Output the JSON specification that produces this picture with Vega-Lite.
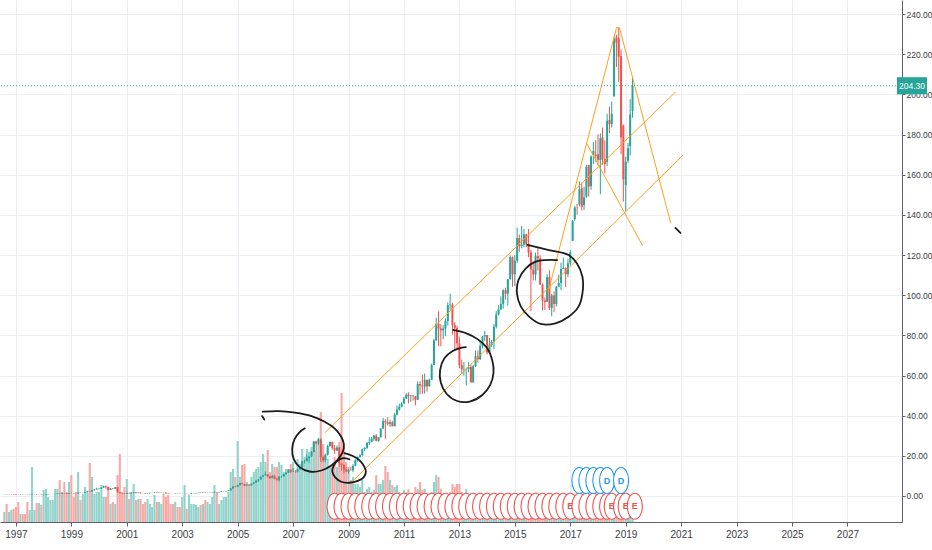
{
  "$schema": "https://vega.github.io/schema/vega-lite/v6.json",
  "width": 902,
  "height": 522,
  "autosize": {"type": "none"},
  "padding": {"left": 0, "top": 0, "right": 30, "bottom": 28},
  "background": "white",
  "data": {"values": [{"last": 204.3, "lab": "204.30"}]},
  "datasets": {
    "candles": [
      {"d":"1996-08-01","o":0.82,"h":0.88,"l":0.78,"c":0.86,"v":10},
      {"d":"1996-09-01","o":0.86,"h":0.90,"l":0.76,"c":0.78,"v":18},
      {"d":"1996-10-01","o":0.78,"h":0.86,"l":0.74,"c":0.83,"v":10},
      {"d":"1996-11-01","o":0.83,"h":0.90,"l":0.80,"c":0.87,"v":12},
      {"d":"1996-12-01","o":0.87,"h":0.92,"l":0.72,"c":0.74,"v":13},
      {"d":"1997-01-01","o":0.74,"h":0.78,"l":0.55,"c":0.57,"v":15},
      {"d":"1997-02-01","o":0.57,"h":0.61,"l":0.51,"c":0.54,"v":20},
      {"d":"1997-03-01","o":0.54,"h":0.72,"l":0.52,"c":0.69,"v":8},
      {"d":"1997-04-01","o":0.69,"h":0.71,"l":0.59,"c":0.62,"v":8},
      {"d":"1997-05-01","o":0.62,"h":0.67,"l":0.58,"c":0.61,"v":8},
      {"d":"1997-06-01","o":0.61,"h":0.64,"l":0.50,"c":0.51,"v":20},
      {"d":"1997-07-01","o":0.51,"h":0.64,"l":0.47,"c":0.62,"v":12},
      {"d":"1997-08-01","o":0.62,"h":1.06,"l":0.60,"c":0.77,"v":55},
      {"d":"1997-09-01","o":0.77,"h":0.85,"l":0.71,"c":0.78,"v":12},
      {"d":"1997-10-01","o":0.78,"h":0.83,"l":0.60,"c":0.61,"v":19},
      {"d":"1997-11-01","o":0.61,"h":0.69,"l":0.58,"c":0.63,"v":19},
      {"d":"1997-12-01","o":0.63,"h":0.65,"l":0.46,"c":0.47,"v":17},
      {"d":"1998-01-01","o":0.47,"h":0.66,"l":0.46,"c":0.64,"v":32},
      {"d":"1998-02-01","o":0.64,"h":0.87,"l":0.63,"c":0.85,"v":33},
      {"d":"1998-03-01","o":0.85,"h":1.00,"l":0.82,"c":0.97,"v":25},
      {"d":"1998-04-01","o":0.97,"h":1.05,"l":0.94,"c":0.98,"v":22},
      {"d":"1998-05-01","o":0.98,"h":1.08,"l":0.95,"c":0.99,"v":22},
      {"d":"1998-06-01","o":0.99,"h":1.08,"l":0.95,"c":1.03,"v":33},
      {"d":"1998-07-01","o":1.03,"h":1.32,"l":1.01,"c":1.23,"v":33},
      {"d":"1998-08-01","o":1.23,"h":1.27,"l":0.99,"c":1.03,"v":42},
      {"d":"1998-09-01","o":1.03,"h":1.47,"l":1.01,"c":1.36,"v":30},
      {"d":"1998-10-01","o":1.36,"h":1.44,"l":1.15,"c":1.33,"v":40},
      {"d":"1998-11-01","o":1.33,"h":1.45,"l":1.08,"c":1.10,"v":30},
      {"d":"1998-12-01","o":1.10,"h":1.52,"l":1.08,"c":1.46,"v":40},
      {"d":"1999-01-01","o":1.46,"h":1.70,"l":1.38,"c":1.42,"v":47},
      {"d":"1999-02-01","o":1.42,"h":1.50,"l":1.25,"c":1.31,"v":25},
      {"d":"1999-03-01","o":1.31,"h":1.40,"l":1.20,"c":1.28,"v":30},
      {"d":"1999-04-01","o":1.28,"h":1.70,"l":1.21,"c":1.66,"v":50},
      {"d":"1999-05-01","o":1.66,"h":1.80,"l":1.55,"c":1.61,"v":22},
      {"d":"1999-06-01","o":1.61,"h":1.70,"l":1.45,"c":1.65,"v":28},
      {"d":"1999-07-01","o":1.65,"h":2.05,"l":1.62,"c":1.99,"v":35},
      {"d":"1999-08-01","o":1.99,"h":2.50,"l":1.94,"c":2.43,"v":30},
      {"d":"1999-09-01","o":2.43,"h":2.75,"l":2.29,"c":2.32,"v":59},
      {"d":"1999-10-01","o":2.32,"h":2.90,"l":2.10,"c":2.86,"v":45},
      {"d":"1999-11-01","o":2.86,"h":3.40,"l":2.75,"c":3.23,"v":28},
      {"d":"1999-12-01","o":3.23,"h":4.18,"l":3.21,"c":3.67,"v":30},
      {"d":"2000-01-01","o":3.67,"h":4.08,"l":3.21,"c":3.69,"v":30},
      {"d":"2000-02-01","o":3.69,"h":4.24,"l":3.50,"c":4.12,"v":37},
      {"d":"2000-03-01","o":4.12,"h":5.16,"l":4.10,"c":4.85,"v":25},
      {"d":"2000-04-01","o":4.85,"h":5.10,"l":3.58,"c":4.42,"v":25},
      {"d":"2000-05-01","o":4.42,"h":4.60,"l":2.86,"c":3.00,"v":35},
      {"d":"2000-06-01","o":3.00,"h":3.95,"l":2.91,"c":3.74,"v":18},
      {"d":"2000-07-01","o":3.74,"h":4.00,"l":3.36,"c":3.63,"v":20},
      {"d":"2000-08-01","o":3.63,"h":4.44,"l":3.56,"c":4.36,"v":18},
      {"d":"2000-09-01","o":4.36,"h":4.54,"l":1.80,"c":1.84,"v":47},
      {"d":"2000-10-01","o":1.84,"h":1.94,"l":1.30,"c":1.40,"v":68},
      {"d":"2000-11-01","o":1.40,"h":1.51,"l":1.15,"c":1.19,"v":30},
      {"d":"2000-12-01","o":1.19,"h":1.26,"l":0.94,"c":1.06,"v":35},
      {"d":"2001-01-01","o":1.06,"h":1.63,"l":1.03,"c":1.56,"v":43},
      {"d":"2001-02-01","o":1.56,"h":1.67,"l":1.29,"c":1.31,"v":23},
      {"d":"2001-03-01","o":1.31,"h":1.64,"l":1.23,"c":1.58,"v":30},
      {"d":"2001-04-01","o":1.58,"h":1.88,"l":1.39,"c":1.82,"v":38},
      {"d":"2001-05-01","o":1.82,"h":1.86,"l":1.40,"c":1.42,"v":22},
      {"d":"2001-06-01","o":1.42,"h":1.77,"l":1.40,"c":1.66,"v":23},
      {"d":"2001-07-01","o":1.66,"h":1.81,"l":1.30,"c":1.34,"v":23},
      {"d":"2001-08-01","o":1.34,"h":1.40,"l":1.28,"c":1.33,"v":18},
      {"d":"2001-09-01","o":1.33,"h":1.36,"l":1.05,"c":1.11,"v":20},
      {"d":"2001-10-01","o":1.11,"h":1.33,"l":1.06,"c":1.26,"v":23},
      {"d":"2001-11-01","o":1.26,"h":1.57,"l":1.25,"c":1.54,"v":18},
      {"d":"2001-12-01","o":1.54,"h":1.66,"l":1.47,"c":1.56,"v":15},
      {"d":"2002-01-01","o":1.56,"h":1.83,"l":1.50,"c":1.75,"v":27},
      {"d":"2002-02-01","o":1.75,"h":1.79,"l":1.47,"c":1.55,"v":20},
      {"d":"2002-03-01","o":1.55,"h":1.73,"l":1.53,"c":1.69,"v":20},
      {"d":"2002-04-01","o":1.69,"h":1.86,"l":1.65,"c":1.73,"v":18},
      {"d":"2002-05-01","o":1.73,"h":1.81,"l":1.61,"c":1.66,"v":28},
      {"d":"2002-06-01","o":1.66,"h":1.72,"l":1.22,"c":1.27,"v":25},
      {"d":"2002-07-01","o":1.27,"h":1.35,"l":1.02,"c":1.09,"v":27},
      {"d":"2002-08-01","o":1.09,"h":1.14,"l":1.03,"c":1.05,"v":18},
      {"d":"2002-09-01","o":1.05,"h":1.14,"l":1.00,"c":1.04,"v":18},
      {"d":"2002-10-01","o":1.04,"h":1.20,"l":0.99,"c":1.15,"v":20},
      {"d":"2002-11-01","o":1.15,"h":1.24,"l":1.06,"c":1.10,"v":15},
      {"d":"2002-12-01","o":1.10,"h":1.17,"l":1.00,"c":1.02,"v":15},
      {"d":"2003-01-01","o":1.02,"h":1.10,"l":1.00,"c":1.03,"v":25},
      {"d":"2003-02-01","o":1.03,"h":1.10,"l":0.99,"c":1.07,"v":37},
      {"d":"2003-03-01","o":1.07,"h":1.11,"l":0.99,"c":1.01,"v":13},
      {"d":"2003-04-01","o":1.01,"h":1.06,"l":0.93,"c":1.02,"v":27},
      {"d":"2003-05-01","o":1.02,"h":1.35,"l":1.01,"c":1.28,"v":18},
      {"d":"2003-06-01","o":1.28,"h":1.43,"l":1.25,"c":1.36,"v":18},
      {"d":"2003-07-01","o":1.36,"h":1.56,"l":1.30,"c":1.50,"v":17},
      {"d":"2003-08-01","o":1.50,"h":1.70,"l":1.45,"c":1.62,"v":15},
      {"d":"2003-09-01","o":1.62,"h":1.66,"l":1.44,"c":1.48,"v":17},
      {"d":"2003-10-01","o":1.48,"h":1.74,"l":1.45,"c":1.63,"v":18},
      {"d":"2003-11-01","o":1.63,"h":1.68,"l":1.45,"c":1.49,"v":22},
      {"d":"2003-12-01","o":1.49,"h":1.63,"l":1.43,"c":1.53,"v":20},
      {"d":"2004-01-01","o":1.53,"h":1.75,"l":1.51,"c":1.61,"v":18},
      {"d":"2004-02-01","o":1.61,"h":1.78,"l":1.55,"c":1.72,"v":25},
      {"d":"2004-03-01","o":1.72,"h":2.06,"l":1.66,"c":1.93,"v":37},
      {"d":"2004-04-01","o":1.93,"h":2.01,"l":1.81,"c":1.84,"v":30},
      {"d":"2004-05-01","o":1.84,"h":2.03,"l":1.76,"c":2.01,"v":18},
      {"d":"2004-06-01","o":2.01,"h":2.36,"l":1.99,"c":2.32,"v":22},
      {"d":"2004-07-01","o":2.32,"h":2.43,"l":2.19,"c":2.33,"v":25},
      {"d":"2004-08-01","o":2.33,"h":2.50,"l":2.24,"c":2.47,"v":25},
      {"d":"2004-09-01","o":2.47,"h":2.80,"l":2.43,"c":2.77,"v":30},
      {"d":"2004-10-01","o":2.77,"h":3.78,"l":2.75,"c":3.76,"v":50},
      {"d":"2004-11-01","o":3.76,"h":4.83,"l":3.70,"c":4.80,"v":53},
      {"d":"2004-12-01","o":4.80,"h":4.85,"l":4.36,"c":4.60,"v":45},
      {"d":"2005-01-01","o":4.60,"h":5.57,"l":4.43,"c":5.49,"v":81},
      {"d":"2005-02-01","o":5.49,"h":6.59,"l":5.41,"c":6.41,"v":45},
      {"d":"2005-03-01","o":6.41,"h":6.55,"l":5.73,"c":5.95,"v":57},
      {"d":"2005-04-01","o":5.95,"h":6.15,"l":4.95,"c":5.16,"v":58},
      {"d":"2005-05-01","o":5.16,"h":5.80,"l":4.96,"c":5.68,"v":40},
      {"d":"2005-06-01","o":5.68,"h":5.86,"l":5.13,"c":5.26,"v":37},
      {"d":"2005-07-01","o":5.26,"h":6.22,"l":5.18,"c":6.09,"v":45},
      {"d":"2005-08-01","o":6.09,"h":6.97,"l":5.97,"c":6.69,"v":50},
      {"d":"2005-09-01","o":6.69,"h":7.74,"l":6.53,"c":7.66,"v":53},
      {"d":"2005-10-01","o":7.66,"h":8.44,"l":6.98,"c":8.22,"v":55},
      {"d":"2005-11-01","o":8.22,"h":9.73,"l":8.16,"c":9.60,"v":60},
      {"d":"2005-12-01","o":9.60,"h":10.53,"l":9.47,"c":10.27,"v":68},
      {"d":"2006-01-01","o":10.27,"h":12.24,"l":10.16,"c":10.79,"v":60},
      {"d":"2006-02-01","o":10.79,"h":10.99,"l":9.17,"c":9.75,"v":72},
      {"d":"2006-03-01","o":9.75,"h":9.99,"l":8.41,"c":8.96,"v":50},
      {"d":"2006-04-01","o":8.96,"h":10.37,"l":8.82,"c":10.06,"v":58},
      {"d":"2006-05-01","o":10.06,"h":10.49,"l":8.46,"c":8.54,"v":55},
      {"d":"2006-06-01","o":8.54,"h":9.16,"l":7.54,"c":8.18,"v":55},
      {"d":"2006-07-01","o":8.18,"h":9.87,"l":7.20,"c":9.68,"v":60},
      {"d":"2006-08-01","o":9.68,"h":10.18,"l":9.05,"c":9.70,"v":57},
      {"d":"2006-09-01","o":9.70,"h":11.05,"l":9.59,"c":11.00,"v":50},
      {"d":"2006-10-01","o":11.00,"h":11.80,"l":10.66,"c":11.58,"v":53},
      {"d":"2006-11-01","o":11.58,"h":13.14,"l":11.52,"c":13.10,"v":53},
      {"d":"2006-12-01","o":13.10,"h":13.12,"l":11.47,"c":12.12,"v":58},
      {"d":"2007-01-01","o":12.12,"h":13.94,"l":11.93,"c":12.25,"v":60},
      {"d":"2007-02-01","o":12.25,"h":12.89,"l":11.56,"c":12.07,"v":50},
      {"d":"2007-03-01","o":12.07,"h":13.59,"l":11.68,"c":13.27,"v":63},
      {"d":"2007-04-01","o":13.27,"h":14.45,"l":12.98,"c":14.26,"v":58},
      {"d":"2007-05-01","o":14.26,"h":17.44,"l":14.14,"c":17.30,"v":73},
      {"d":"2007-06-01","o":17.30,"h":18.10,"l":16.15,"c":17.43,"v":65},
      {"d":"2007-07-01","o":17.43,"h":20.64,"l":17.27,"c":18.83,"v":73},
      {"d":"2007-08-01","o":18.83,"h":19.80,"l":16.50,"c":19.75,"v":70},
      {"d":"2007-09-01","o":19.75,"h":22.31,"l":19.40,"c":21.93,"v":75},
      {"d":"2007-10-01","o":21.93,"h":27.50,"l":21.80,"c":27.13,"v":80},
      {"d":"2007-11-01","o":27.13,"h":27.56,"l":22.94,"c":26.07,"v":72},
      {"d":"2007-12-01","o":26.07,"h":28.99,"l":25.47,"c":28.30,"v":78},
      {"d":"2008-01-01","o":28.30,"h":28.61,"l":16.90,"c":19.34,"v":110},
      {"d":"2008-02-01","o":19.34,"h":19.95,"l":16.77,"c":17.85,"v":78},
      {"d":"2008-03-01","o":17.85,"h":21.13,"l":16.86,"c":20.50,"v":65},
      {"d":"2008-04-01","o":20.50,"h":25.56,"l":20.10,"c":24.85,"v":63},
      {"d":"2008-05-01","o":24.85,"h":27.03,"l":24.60,"c":26.96,"v":55},
      {"d":"2008-06-01","o":26.96,"h":27.03,"l":22.99,"c":23.92,"v":58},
      {"d":"2008-07-01","o":23.92,"h":25.37,"l":20.93,"c":22.70,"v":65},
      {"d":"2008-08-01","o":22.70,"h":25.17,"l":22.38,"c":24.18,"v":55},
      {"d":"2008-09-01","o":24.18,"h":24.37,"l":14.36,"c":16.24,"v":80},
      {"d":"2008-10-01","o":16.24,"h":16.55,"l":12.58,"c":15.37,"v":129},
      {"d":"2008-11-01","o":15.37,"h":15.86,"l":11.32,"c":13.24,"v":75},
      {"d":"2008-12-01","o":13.24,"h":14.53,"l":11.90,"c":12.19,"v":60},
      {"d":"2009-01-01","o":12.19,"h":13.48,"l":11.17,"c":12.88,"v":55},
      {"d":"2009-02-01","o":12.88,"h":14.66,"l":12.70,"c":12.76,"v":42},
      {"d":"2009-03-01","o":12.76,"h":15.88,"l":11.82,"c":15.02,"v":45},
      {"d":"2009-04-01","o":15.02,"h":18.18,"l":14.80,"c":17.98,"v":38},
      {"d":"2009-05-01","o":17.98,"h":19.65,"l":16.95,"c":19.40,"v":38},
      {"d":"2009-06-01","o":19.40,"h":20.79,"l":19.10,"c":20.35,"v":35},
      {"d":"2009-07-01","o":20.35,"h":23.62,"l":19.70,"c":23.34,"v":42},
      {"d":"2009-08-01","o":23.34,"h":24.26,"l":22.35,"c":24.03,"v":30},
      {"d":"2009-09-01","o":24.03,"h":26.78,"l":23.41,"c":26.48,"v":33},
      {"d":"2009-10-01","o":26.48,"h":29.30,"l":25.39,"c":26.93,"v":35},
      {"d":"2009-11-01","o":26.93,"h":29.46,"l":26.78,"c":28.56,"v":30},
      {"d":"2009-12-01","o":28.56,"h":30.36,"l":27.46,"c":30.10,"v":32},
      {"d":"2010-01-01","o":30.10,"h":30.80,"l":27.18,"c":27.44,"v":47},
      {"d":"2010-02-01","o":27.44,"h":29.28,"l":27.01,"c":29.23,"v":38},
      {"d":"2010-03-01","o":29.23,"h":33.80,"l":29.20,"c":33.57,"v":38},
      {"d":"2010-04-01","o":33.57,"h":38.99,"l":33.51,"c":37.30,"v":42},
      {"d":"2010-05-01","o":37.30,"h":38.23,"l":28.46,"c":36.70,"v":56},
      {"d":"2010-06-01","o":36.70,"h":39.24,"l":35.00,"c":35.93,"v":50},
      {"d":"2010-07-01","o":35.93,"h":37.97,"l":34.37,"c":36.75,"v":42},
      {"d":"2010-08-01","o":36.75,"h":37.43,"l":34.68,"c":34.73,"v":37},
      {"d":"2010-09-01","o":34.73,"h":41.37,"l":34.64,"c":40.54,"v":35},
      {"d":"2010-10-01","o":40.54,"h":45.05,"l":40.08,"c":43.00,"v":37},
      {"d":"2010-11-01","o":43.00,"h":45.92,"l":42.56,"c":44.45,"v":30},
      {"d":"2010-12-01","o":44.45,"h":46.67,"l":44.14,"c":46.08,"v":25},
      {"d":"2011-01-01","o":46.08,"h":49.38,"l":46.00,"c":48.47,"v":32},
      {"d":"2011-02-01","o":48.47,"h":51.24,"l":48.36,"c":50.46,"v":30},
      {"d":"2011-03-01","o":50.46,"h":51.64,"l":46.10,"c":49.79,"v":33},
      {"d":"2011-04-01","o":49.79,"h":50.36,"l":46.91,"c":50.02,"v":28},
      {"d":"2011-05-01","o":50.02,"h":50.04,"l":47.50,"c":49.69,"v":22},
      {"d":"2011-06-01","o":49.69,"h":49.80,"l":45.18,"c":47.95,"v":35},
      {"d":"2011-07-01","o":47.95,"h":57.15,"l":47.70,"c":55.78,"v":33},
      {"d":"2011-08-01","o":55.78,"h":57.18,"l":50.57,"c":54.98,"v":40},
      {"d":"2011-09-01","o":54.98,"h":60.41,"l":50.84,"c":54.47,"v":32},
      {"d":"2011-10-01","o":54.47,"h":60.96,"l":50.95,"c":57.83,"v":33},
      {"d":"2011-11-01","o":57.83,"h":57.94,"l":51.98,"c":54.60,"v":28},
      {"d":"2011-12-01","o":54.60,"h":58.44,"l":54.44,"c":57.86,"v":22},
      {"d":"2012-01-01","o":57.86,"h":65.90,"l":57.80,"c":65.21,"v":30},
      {"d":"2012-02-01","o":65.21,"h":78.29,"l":65.26,"c":77.49,"v":40},
      {"d":"2012-03-01","o":77.49,"h":88.78,"l":77.29,"c":85.65,"v":47},
      {"d":"2012-04-01","o":85.65,"h":92.00,"l":74.60,"c":83.43,"v":45},
      {"d":"2012-05-01","o":83.43,"h":85.63,"l":74.60,"c":82.53,"v":33},
      {"d":"2012-06-01","o":82.53,"h":85.10,"l":78.04,"c":83.43,"v":25},
      {"d":"2012-07-01","o":83.43,"h":88.47,"l":79.58,"c":87.25,"v":28},
      {"d":"2012-08-01","o":87.25,"h":96.41,"l":84.91,"c":95.03,"v":27},
      {"d":"2012-09-01","o":95.03,"h":100.72,"l":92.80,"c":95.30,"v":30},
      {"d":"2012-10-01","o":95.30,"h":96.30,"l":80.37,"c":85.05,"v":38},
      {"d":"2012-11-01","o":85.05,"h":86.49,"l":72.25,"c":83.61,"v":35},
      {"d":"2012-12-01","o":83.61,"h":84.66,"l":72.79,"c":76.02,"v":38},
      {"d":"2013-01-01","o":76.02,"h":79.29,"l":63.64,"c":65.07,"v":38},
      {"d":"2013-02-01","o":65.07,"h":67.86,"l":60.72,"c":63.06,"v":30},
      {"d":"2013-03-01","o":63.06,"h":66.69,"l":59.86,"c":63.24,"v":25},
      {"d":"2013-04-01","o":63.24,"h":63.89,"l":55.01,"c":63.25,"v":33},
      {"d":"2013-05-01","o":63.25,"h":66.54,"l":61.57,"c":64.25,"v":25},
      {"d":"2013-06-01","o":64.25,"h":65.39,"l":56.43,"c":56.65,"v":27},
      {"d":"2013-07-01","o":56.65,"h":65.33,"l":56.22,"c":64.65,"v":25},
      {"d":"2013-08-01","o":64.65,"h":72.53,"l":64.27,"c":69.60,"v":24},
      {"d":"2013-09-01","o":69.60,"h":72.55,"l":66.39,"c":68.11,"v":28},
      {"d":"2013-10-01","o":68.11,"h":77.04,"l":67.77,"c":74.67,"v":22},
      {"d":"2013-11-01","o":74.67,"h":79.76,"l":73.46,"c":79.44,"v":18},
      {"d":"2013-12-01","o":79.44,"h":82.16,"l":77.21,"c":80.15,"v":20},
      {"d":"2014-01-01","o":80.15,"h":80.18,"l":70.51,"c":71.51,"v":22},
      {"d":"2014-02-01","o":71.51,"h":78.74,"l":70.70,"c":75.18,"v":18},
      {"d":"2014-03-01","o":75.18,"h":77.70,"l":74.24,"c":76.68,"v":16},
      {"d":"2014-04-01","o":76.68,"h":85.63,"l":73.05,"c":84.30,"v":20},
      {"d":"2014-05-01","o":84.30,"h":92.02,"l":83.47,"c":90.43,"v":20},
      {"d":"2014-06-01","o":90.43,"h":95.05,"l":89.82,"c":92.93,"v":18},
      {"d":"2014-07-01","o":92.93,"h":99.44,"l":92.57,"c":95.60,"v":14},
      {"d":"2014-08-01","o":95.60,"h":102.90,"l":93.28,"c":102.50,"v":16},
      {"d":"2014-09-01","o":102.50,"h":103.74,"l":97.79,"c":100.75,"v":20},
      {"d":"2014-10-01","o":100.75,"h":108.04,"l":94.81,"c":108.00,"v":18},
      {"d":"2014-11-01","o":108.00,"h":119.75,"l":107.72,"c":118.93,"v":16},
      {"d":"2014-12-01","o":118.93,"h":119.25,"l":104.25,"c":110.38,"v":18},
      {"d":"2015-01-01","o":110.38,"h":120.00,"l":104.63,"c":117.16,"v":18},
      {"d":"2015-02-01","o":117.16,"h":133.60,"l":116.08,"c":128.46,"v":20},
      {"d":"2015-03-01","o":128.46,"h":130.28,"l":121.63,"c":124.43,"v":17},
      {"d":"2015-04-01","o":124.43,"h":134.54,"l":123.36,"c":125.15,"v":16},
      {"d":"2015-05-01","o":125.15,"h":132.97,"l":123.83,"c":130.28,"v":13},
      {"d":"2015-06-01","o":130.28,"h":130.63,"l":123.85,"c":125.43,"v":15},
      {"d":"2015-07-01","o":125.43,"h":132.97,"l":118.94,"c":121.30,"v":16},
      {"d":"2015-08-01","o":121.30,"h":122.57,"l":92.00,"c":112.76,"v":22},
      {"d":"2015-09-01","o":112.76,"h":116.89,"l":107.31,"c":110.30,"v":18},
      {"d":"2015-10-01","o":110.30,"h":121.22,"l":107.31,"c":119.50,"v":15},
      {"d":"2015-11-01","o":119.50,"h":123.82,"l":112.27,"c":118.30,"v":13},
      {"d":"2015-12-01","o":118.30,"h":119.86,"l":105.20,"c":105.26,"v":16},
      {"d":"2016-01-01","o":105.26,"h":105.85,"l":92.39,"c":97.34,"v":18},
      {"d":"2016-02-01","o":97.34,"h":98.89,"l":92.59,"c":96.69,"v":16},
      {"d":"2016-03-01","o":96.69,"h":110.42,"l":96.65,"c":108.99,"v":14},
      {"d":"2016-04-01","o":108.99,"h":112.39,"l":92.51,"c":93.74,"v":18},
      {"d":"2016-05-01","o":93.74,"h":100.73,"l":89.47,"c":99.86,"v":13},
      {"d":"2016-06-01","o":99.86,"h":101.89,"l":91.50,"c":95.60,"v":12},
      {"d":"2016-07-01","o":95.60,"h":104.55,"l":94.37,"c":104.21,"v":10},
      {"d":"2016-08-01","o":104.21,"h":110.23,"l":104.00,"c":106.10,"v":9},
      {"d":"2016-09-01","o":106.10,"h":116.18,"l":102.53,"c":113.05,"v":12},
      {"d":"2016-10-01","o":113.05,"h":118.69,"l":113.03,"c":113.54,"v":11},
      {"d":"2016-11-01","o":113.54,"h":113.80,"l":104.08,"c":110.52,"v":11},
      {"d":"2016-12-01","o":110.52,"h":118.02,"l":108.93,"c":115.82,"v":9},
      {"d":"2017-01-01","o":115.82,"h":122.44,"l":114.76,"c":121.35,"v":8},
      {"d":"2017-02-01","o":127.03,"h":137.48,"l":127.01,"c":136.99,"v":8},
      {"d":"2017-03-01","o":137.89,"h":144.50,"l":137.05,"c":143.66,"v":9},
      {"d":"2017-04-01","o":143.71,"h":145.46,"l":140.06,"c":143.65,"v":8},
      {"d":"2017-05-01","o":145.10,"h":156.65,"l":144.27,"c":152.76,"v":9},
      {"d":"2017-06-01","o":153.17,"h":155.98,"l":142.20,"c":144.02,"v":10},
      {"d":"2017-07-01","o":144.88,"h":153.99,"l":142.41,"c":148.73,"v":9},
      {"d":"2017-08-01","o":149.10,"h":164.94,"l":148.41,"c":164.00,"v":10},
      {"d":"2017-09-01","o":164.80,"h":164.94,"l":149.16,"c":154.12,"v":10},
      {"d":"2017-10-01","o":154.26,"h":169.65,"l":152.46,"c":169.04,"v":9},
      {"d":"2017-11-01","o":169.87,"h":176.24,"l":165.28,"c":171.85,"v":10},
      {"d":"2017-12-01","o":169.95,"h":177.20,"l":166.46,"c":169.23,"v":11},
      {"d":"2018-01-01","o":170.16,"h":180.10,"l":164.60,"c":167.43,"v":12},
      {"d":"2018-02-01","o":167.17,"h":180.62,"l":150.24,"c":178.12,"v":12},
      {"d":"2018-03-01","o":178.54,"h":183.50,"l":164.94,"c":167.78,"v":12},
      {"d":"2018-04-01","o":167.88,"h":177.10,"l":160.63,"c":165.26,"v":10},
      {"d":"2018-05-01","o":166.41,"h":190.37,"l":164.33,"c":186.87,"v":9},
      {"d":"2018-06-01","o":187.25,"h":193.94,"l":180.73,"c":185.11,"v":7},
      {"d":"2018-07-01","o":185.26,"h":196.44,"l":183.42,"c":190.29,"v":8},
      {"d":"2018-08-01","o":199.13,"h":228.87,"l":198.67,"c":227.63,"v":9},
      {"d":"2018-09-01","o":228.41,"h":229.67,"l":213.63,"c":225.74,"v":9},
      {"d":"2018-10-01","o":227.95,"h":233.47,"l":206.09,"c":218.86,"v":11},
      {"d":"2018-11-01","o":219.07,"h":222.36,"l":170.26,"c":178.58,"v":12},
      {"d":"2018-12-01","o":184.46,"h":184.94,"l":146.59,"c":157.74,"v":13},
      {"d":"2019-01-01","o":154.89,"h":169.00,"l":142.00,"c":166.44,"v":10},
      {"d":"2019-02-01","o":166.96,"h":175.87,"l":165.93,"c":173.15,"v":8},
      {"d":"2019-03-01","o":174.28,"h":197.69,"l":169.50,"c":189.95,"v":9},
      {"d":"2019-04-01","o":191.64,"h":208.48,"l":188.38,"c":204.30,"v":7}
    ],
    "earnings": [
      {"d":"2008-07-01","lab":""},{"d":"2008-10-01","lab":""},{"d":"2009-01-01","lab":""},{"d":"2009-04-01","lab":""},
      {"d":"2009-07-01","lab":""},{"d":"2009-10-01","lab":""},{"d":"2010-01-01","lab":""},{"d":"2010-04-01","lab":""},
      {"d":"2010-07-01","lab":""},{"d":"2010-10-01","lab":""},{"d":"2011-01-01","lab":""},{"d":"2011-04-01","lab":""},
      {"d":"2011-07-01","lab":""},{"d":"2011-10-01","lab":""},{"d":"2012-01-01","lab":""},{"d":"2012-04-01","lab":""},
      {"d":"2012-07-01","lab":""},{"d":"2012-10-01","lab":""},{"d":"2013-01-01","lab":""},{"d":"2013-04-01","lab":""},
      {"d":"2013-07-01","lab":""},{"d":"2013-10-01","lab":""},{"d":"2014-01-01","lab":""},{"d":"2014-04-01","lab":""},
      {"d":"2014-07-01","lab":""},{"d":"2014-10-01","lab":""},{"d":"2015-01-01","lab":""},{"d":"2015-04-01","lab":""},
      {"d":"2015-07-01","lab":""},{"d":"2015-10-01","lab":""},{"d":"2016-01-01","lab":""},{"d":"2016-04-01","lab":""},
      {"d":"2016-07-01","lab":""},{"d":"2016-10-01","lab":""},{"d":"2017-01-01","lab":"E"},{"d":"2017-05-01","lab":""},
      {"d":"2017-08-01","lab":""},{"d":"2017-11-01","lab":""},{"d":"2018-02-01","lab":""},{"d":"2018-05-01","lab":""},
      {"d":"2018-07-01","lab":"E"},{"d":"2018-11-01","lab":""},{"d":"2019-01-01","lab":"E"},{"d":"2019-05-01","lab":"E"}
    ],
    "dividends": [
      {"d":"2017-05-01","lab":""},{"d":"2017-08-01","lab":""},{"d":"2017-11-01","lab":""},
      {"d":"2018-02-01","lab":""},{"d":"2018-05-01","lab":"D"},{"d":"2018-11-01","lab":"D"}
    ],
    "trendlines": [
      {"id":"upper","d":"2008-02-21","p":31.4},{"id":"upper","d":"2020-10-22","p":201.3},
      {"id":"lower","d":"2009-02-26","p":7.5},{"id":"lower","d":"2021-01-27","p":169.8},
      {"id":"legs","d":"2016-03-12","p":101.1},{"id":"legs","d":"2018-09-03","p":233.3},
      {"id":"legs","d":"2018-10-12","p":233.1},{"id":"legs","d":"2020-08-17","p":135.8},
      {"id":"inner","d":"2017-08-02","p":175.8},{"id":"inner","d":"2019-08-14","p":124.5}
    ],
    "sketch": [
      {"id":"a0","i":0,"d":"2005-11-18","p":39.8},{"id":"a0","i":1,"d":"2005-12-18","p":38.1},
      {"id":"a","i":0,"d":"2005-11-27","p":42.0},{"id":"a","i":1,"d":"2006-06-24","p":42.3},
      {"id":"a","i":2,"d":"2007-01-26","p":41.5},{"id":"a","i":3,"d":"2007-08-31","p":39.8},
      {"id":"a","i":4,"d":"2008-02-21","p":37.0},{"id":"a","i":5,"d":"2008-07-01","p":33.7},
      {"id":"a","i":6,"d":"2008-09-26","p":29.5},{"id":"a","i":7,"d":"2008-10-31","p":25.9},
      {"id":"a","i":8,"d":"2008-10-18","p":22.1},{"id":"a","i":9,"d":"2008-08-18","p":18.4},
      {"id":"a","i":10,"d":"2008-05-19","p":15.2},{"id":"a","i":11,"d":"2008-01-09","p":12.7},
      {"id":"a","i":12,"d":"2007-08-05","p":12.2},{"id":"a","i":13,"d":"2007-03-28","p":14.4},
      {"id":"a","i":14,"d":"2007-01-10","p":18.4},{"id":"a","i":15,"d":"2006-12-20","p":23.4},
      {"id":"a","i":16,"d":"2007-01-22","p":28.4},{"id":"a","i":17,"d":"2007-03-22","p":31.6},
      {"id":"a","i":18,"d":"2007-06-05","p":33.7},
      {"id":"b","i":0,"d":"2008-11-08","p":21.3},{"id":"b","i":1,"d":"2009-02-26","p":19.9},
      {"id":"b","i":2,"d":"2009-05-23","p":17.9},{"id":"b","i":3,"d":"2009-07-27","p":14.6},
      {"id":"b","i":4,"d":"2009-08-18","p":12.1},{"id":"b","i":5,"d":"2009-07-19","p":9.3},
      {"id":"b","i":6,"d":"2009-05-02","p":7.5},{"id":"b","i":7,"d":"2009-01-13","p":6.6},
      {"id":"b","i":8,"d":"2008-09-26","p":7.1},{"id":"b","i":9,"d":"2008-07-10","p":9.3},
      {"id":"b","i":10,"d":"2008-06-01","p":12.1},{"id":"b","i":11,"d":"2008-06-23","p":15.4},
      {"id":"b","i":12,"d":"2008-08-22","p":17.9},{"id":"b","i":13,"d":"2008-10-18","p":18.8},
      {"id":"b","i":14,"d":"2009-01-13","p":18.3},
      {"id":"c","i":0,"d":"2012-10-12","p":82.7},{"id":"c","i":1,"d":"2013-04-04","p":81.0},
      {"id":"c","i":2,"d":"2013-09-02","p":78.0},{"id":"c","i":3,"d":"2014-01-03","p":73.6},
      {"id":"c","i":4,"d":"2014-03-09","p":67.7},{"id":"c","i":5,"d":"2014-03-26","p":61.4},
      {"id":"c","i":6,"d":"2014-02-11","p":55.3},{"id":"c","i":7,"d":"2013-10-30","p":50.3},
      {"id":"c","i":8,"d":"2013-05-17","p":47.0},{"id":"c","i":9,"d":"2012-12-02","p":47.3},
      {"id":"c","i":10,"d":"2012-07-18","p":50.8},{"id":"c","i":11,"d":"2012-05-01","p":56.4},
      {"id":"c","i":12,"d":"2012-04-21","p":62.7},{"id":"c","i":13,"d":"2012-06-17","p":68.6},
      {"id":"c","i":14,"d":"2012-10-04","p":72.2},{"id":"c","i":15,"d":"2013-01-30","p":73.9},
      {"id":"c","i":16,"d":"2013-03-26","p":74.1},
      {"id":"d","i":0,"d":"2015-06-15","p":125.0},{"id":"d","i":1,"d":"2016-03-24","p":122.5},
      {"id":"d","i":2,"d":"2016-12-10","p":120.0},{"id":"d","i":3,"d":"2017-03-28","p":115.9},
      {"id":"d","i":4,"d":"2017-06-10","p":109.2},{"id":"d","i":5,"d":"2017-06-10","p":100.9},
      {"id":"d","i":6,"d":"2017-04-20","p":94.3},{"id":"d","i":7,"d":"2016-12-10","p":89.3},
      {"id":"d","i":8,"d":"2016-06-20","p":86.0},{"id":"d","i":9,"d":"2015-12-07","p":85.7},
      {"id":"d","i":10,"d":"2015-07-08","p":89.3},{"id":"d","i":11,"d":"2015-03-22","p":94.3},
      {"id":"d","i":12,"d":"2015-01-29","p":100.9},{"id":"d","i":13,"d":"2015-02-18","p":107.6},
      {"id":"d","i":14,"d":"2015-05-26","p":113.4},{"id":"d","i":15,"d":"2015-10-03","p":116.7},
      {"id":"d","i":16,"d":"2016-02-10","p":117.5},{"id":"d","i":17,"d":"2016-07-11","p":117.5},
      {"id":"e","i":0,"d":"2020-10-17","p":133.5},{"id":"e","i":1,"d":"2020-12-22","p":131.0}
    ]
  },
  "layer": [
    {
      "data": {"name": "candles"},
      "mark": {"type": "bar", "size": 2.1},
      "encoding": {
        "x": {
          "field": "d",
          "type": "temporal",
          "title": null,
          "scale": {"domain": [{"year": 1996, "month": 8, "date": 10}, {"year": 2028, "month": 10, "date": 15}], "nice": false},
          "axis": {
            "format": "%Y",
            "values": [852076800000, 915148800000, 978307200000, 1041379200000, 1104537600000, 1167609600000, 1230768000000, 1293840000000, 1356998400000, 1420070400000, 1483228800000, 1546300800000, 1609459200000, 1672531200000, 1735689600000, 1798761600000],
            "grid": true,
            "tickSize": 4,
            "labelPadding": 3,
            "labelFontSize": 10
          }
        },
        "y": {"field": "v", "type": "quantitative", "scale": {"domain": [0, 522], "nice": false}, "axis": null},
        "color": {"condition": {"test": "datum.c >= datum.o", "value": "#92d3cc"}, "value": "#f7a9a7"}
      }
    },
    {
      "data": {"name": "candles"},
      "mark": {"type": "rule", "strokeWidth": 1},
      "encoding": {
        "x": {"field": "d", "type": "temporal", "title": null},
        "y": {
          "field": "l", "type": "quantitative", "title": null,
          "scale": {"domain": [-12.95, 247], "nice": false, "zero": false},
          "axis": {
            "orient": "right",
            "values": [0, 20, 40, 60, 80, 100, 120, 140, 160, 180, 200, 220, 240],
            "format": ".2f", "grid": true, "tickSize": 3, "labelPadding": 1, "labelFontSize": 8.5
          }
        },
        "y2": {"field": "h"},
        "color": {"condition": {"test": "datum.c >= datum.o", "value": "#26a69a"}, "value": "#ef5350"}
      }
    },
    {
      "data": {"name": "candles"},
      "mark": {"type": "bar", "size": 2},
      "encoding": {
        "x": {"field": "d", "type": "temporal", "title": null},
        "y": {"field": "o", "type": "quantitative", "scale": {"domain": [-12.95, 247], "nice": false, "zero": false}, "axis": null},
        "y2": {"field": "c"},
        "color": {"condition": {"test": "datum.c >= datum.o", "value": "#26a69a"}, "value": "#ef5350"}
      }
    },
    {
      "data": {"name": "trendlines"},
      "mark": {"type": "line", "color": "#ff9f1c", "strokeWidth": 1, "clip": true},
      "encoding": {
        "x": {"field": "d", "type": "temporal", "title": null},
        "y": {"field": "p", "type": "quantitative", "scale": {"domain": [-12.95, 247], "nice": false, "zero": false}, "axis": null},
        "detail": {"field": "id"}
      }
    },
    {
      "data": {"name": "sketch"},
      "mark": {"type": "line", "color": "#1c1c1c", "strokeWidth": 1.8, "interpolate": "catmull-rom", "strokeCap": "round", "clip": true},
      "encoding": {
        "x": {"field": "d", "type": "temporal", "title": null},
        "y": {"field": "p", "type": "quantitative", "scale": {"domain": [-12.95, 247], "nice": false, "zero": false}, "axis": null},
        "detail": {"field": "id"},
        "order": {"field": "i"}
      }
    },
    {
      "mark": {"type": "rule", "color": "#26a69a", "strokeWidth": 1, "strokeDash": [1, 2]},
      "encoding": {
        "y": {"field": "last", "type": "quantitative", "scale": {"domain": [-12.95, 247], "nice": false, "zero": false}, "axis": null}
      }
    },
    {
      "data": {"name": "earnings"},
      "mark": {"type": "point", "shape": "M0,-1A0.58,1 0 1,1 0,1A0.58,1 0 1,1 0,-1Z", "size": 676, "filled": true, "fill": "white", "stroke": "#ef5350", "strokeWidth": 1.1, "opacity": 1},
      "encoding": {
        "x": {"field": "d", "type": "temporal", "title": null},
        "y": {"datum": -5.1, "type": "quantitative", "scale": {"domain": [-12.95, 247], "nice": false, "zero": false}, "axis": null}
      }
    },
    {
      "data": {"name": "earnings"},
      "mark": {"type": "text", "color": "#ef5350", "fontSize": 9, "font": "Liberation Sans", "fontWeight": "bold"},
      "encoding": {
        "x": {"field": "d", "type": "temporal", "title": null},
        "y": {"datum": -5.1, "type": "quantitative", "scale": {"domain": [-12.95, 247], "nice": false, "zero": false}, "axis": null},
        "text": {"field": "lab"}
      }
    },
    {
      "data": {"name": "dividends"},
      "mark": {"type": "point", "shape": "M0,-1A0.58,1 0 1,1 0,1A0.58,1 0 1,1 0,-1Z", "size": 676, "filled": true, "fill": "white", "stroke": "#2196f3", "strokeWidth": 1.1, "opacity": 1},
      "encoding": {
        "x": {"field": "d", "type": "temporal", "title": null},
        "y": {"datum": 7.7, "type": "quantitative", "scale": {"domain": [-12.95, 247], "nice": false, "zero": false}, "axis": null}
      }
    },
    {
      "data": {"name": "dividends"},
      "mark": {"type": "text", "color": "#2196f3", "fontSize": 9, "font": "Liberation Sans", "fontWeight": "bold"},
      "encoding": {
        "x": {"field": "d", "type": "temporal", "title": null},
        "y": {"datum": 7.7, "type": "quantitative", "scale": {"domain": [-12.95, 247], "nice": false, "zero": false}, "axis": null},
        "text": {"field": "lab"}
      }
    },
    {
      "mark": {"type": "point", "shape": "M-1,-0.57H1V0.57H-1Z", "size": 900, "filled": true, "color": "#26a69a", "opacity": 1, "xOffset": 15, "clip": false},
      "encoding": {
        "x": {"datum": {"year": 2028, "month": 10, "date": 15}, "type": "temporal", "title": null},
        "y": {"field": "last", "type": "quantitative", "scale": {"domain": [-12.95, 247], "nice": false, "zero": false}, "axis": null}
      }
    },
    {
      "mark": {"type": "text", "color": "white", "fontSize": 8.5, "xOffset": 15, "clip": false},
      "encoding": {
        "x": {"datum": {"year": 2028, "month": 10, "date": 15}, "type": "temporal", "title": null},
        "y": {"field": "last", "type": "quantitative", "scale": {"domain": [-12.95, 247], "nice": false, "zero": false}, "axis": null},
        "text": {"field": "lab"}
      }
    }
  ],
  "resolve": {"scale": {"y": "independent"}},
  "config": {
    "view": {"stroke": null},
    "font": "Liberation Sans Narrow, Liberation Sans, sans-serif",
    "axis": {
      "gridColor": "#eceef3",
      "gridWidth": 1,
      "domainColor": "#5d606b",
      "tickColor": "#5d606b",
      "labelColor": "#3b3e45",
      "labelFont": "Liberation Sans Narrow, Liberation Sans, sans-serif"
    }
  }
}
